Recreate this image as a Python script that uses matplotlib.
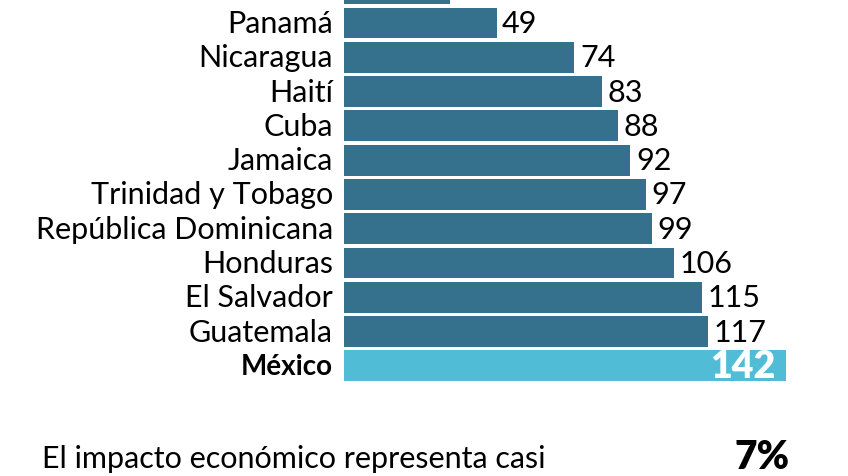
import matplotlib.pyplot as plt

countries = ["México", "Guatemala", "El Salvador", "Honduras", "República Dominicana",
             "Trinidad y Tobago", "Jamaica", "Cuba", "Haití", "Nicaragua", "Panamá", "Costa Rica"]
values = [142, 117, 115, 106, 99, 97, 92, 88, 83, 74, 49, 34]
footer_text = "El impacto económico representa casi"
footer_value = "7%"

dark = "#35718c"
light = "#51bcd6"
font = "Lato"

fig = plt.figure(figsize=(8.48, 4.77), dpi=100)
ax = fig.add_axes([0, 0, 1, 1])
ax.set_xlim(-110.5, 161.9)
ax.set_ylim(-3.21, 10.70)
ax.axis("off")

pos = list(range(len(countries)))
colors = [light] + [dark] * (len(countries) - 1)
ax.barh(pos, values, height=0.9, color=colors)

for i, (c, v) in enumerate(zip(countries, values)):
    if i == 0:
        ax.text(-3.5, i, c, ha="right", va="center", fontsize=20, family=font,
                fontweight="bold", color="black")
        ax.text(v - 3.5, i, str(v), ha="right", va="center", fontsize=27, family=font,
                fontweight="heavy", color="white")
    else:
        ax.text(-3.5, i, c, ha="right", va="center", fontsize=22, family=font,
                color="black")
        ax.text(v + 1.8, i, str(v), ha="left", va="center", fontsize=22, family=font,
                color="black")

fig.text(42 / 848, 1 - 459 / 477, footer_text, ha="left", va="center", fontsize=22,
         family=font)
fig.text(790 / 848, 1 - 458 / 477, footer_value, ha="right", va="center", fontsize=28,
         family=font, fontweight="heavy")

fig.savefig("out.png", dpi=100)
